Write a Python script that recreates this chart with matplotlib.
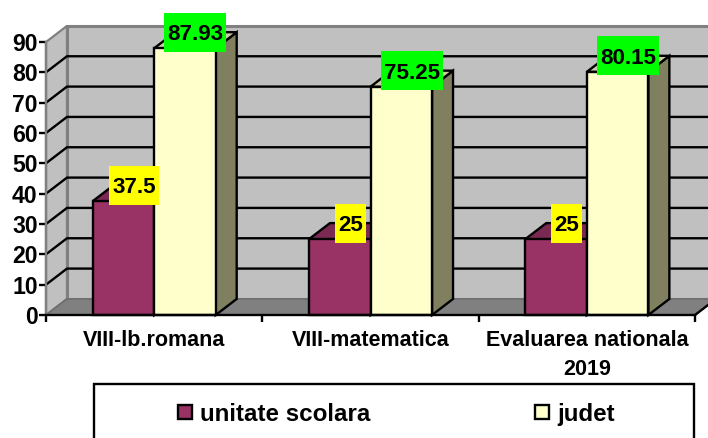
import matplotlib
matplotlib.use("Agg")
import matplotlib.pyplot as plt
from matplotlib.patches import Polygon, Rectangle

categories = ["VIII-lb.romana", "VIII-matematica", "Evaluarea nationala\n2019"]
unitate = [37.5, 25, 25]
judet = [87.93, 75.25, 80.15]
unitate_labels = ["37.5", "25", "25"]
judet_labels = ["87.93", "75.25", "80.15"]
y_ticks = [0, 10, 20, 30, 40, 50, 60, 70, 80, 90]
legend_labels = ["unitate scolara", "judet"]

# ── Style ─────────────────────────────────────────────────────────
W, H = 708, 438
MAROON, MAROON_TOP = "#993366", "#7A2952"
CREAM, CREAM_TOP, CREAM_SIDE = "#FFFFCC", "#CCCCA3", "#808060"
WALL, WALL_EDGE, FLOOR = "#C0C0C0", "#808080", "#808080"
BAR_W = 0.2845
DX, DY = 0.097, 5.3   # 3d depth offset, in data units
LW = 1.7

plt.rcParams["font.family"] = ["Liberation Sans", "DejaVu Sans"]
plt.rcParams["font.weight"] = "bold"

fig = plt.figure(figsize=(W / 100, H / 100), dpi=100, facecolor="white")
ax = fig.add_axes([46 / W, (H - 315) / H, (695 - 46) / W, (315 - 42) / H])
ax.set_xlim(0, 3)
ax.set_ylim(0, 90)
ax.patch.set_visible(False)
for s in ("top", "right"):
    ax.spines[s].set_visible(False)
for s in ("left", "bottom"):
    ax.spines[s].set_linewidth(LW)
    ax.spines[s].set_zorder(6)
ax.spines["left"].set_color("#808080")


def poly(pts, face, edge, z, lw=LW):
    ax.add_patch(Polygon(pts, closed=True, facecolor=face, edgecolor=edge,
                         linewidth=lw, zorder=z, clip_on=False, joinstyle="miter"))


# walls and floor
poly([(DX, DY), (3 + DX, DY), (3 + DX, 90 + DY), (DX, 90 + DY)], WALL, WALL_EDGE, 1, 2.2)
poly([(0, 0), (DX, DY), (DX, 90 + DY), (0, 90)], WALL, WALL_EDGE, 1, 1.6)
poly([(0, 0), (3, 0), (3 + DX, DY), (DX, DY)], FLOOR, "#6E6E6E", 2, 1.2)
ax.plot([3, 3 + DX], [0, DY], color="black", lw=LW, zorder=2.5, clip_on=False)

# gridlines along back wall and left wall
for v in y_ticks[1:-1]:
    ax.plot([0, DX, 3 + DX], [v, v + DY, v + DY], color="black", lw=LW,
            zorder=2, clip_on=False, solid_joinstyle="miter")


def bar3d(left, val, face, top, side, z):
    right = left + BAR_W
    poly([(right, 0), (right + DX, DY), (right + DX, val + DY), (right, val)], side, "black", z)
    poly([(left, val), (left + DX, val + DY), (right + DX, val + DY), (right, val)], top, "black", z)
    ax.bar(left, val, BAR_W, align="edge", color=face, edgecolor="black",
           linewidth=LW, zorder=z + 0.1, clip_on=False)


for i in range(len(categories)):
    c = i + 0.5
    bar3d(c - BAR_W, unitate[i], MAROON, MAROON_TOP, "#66224A", 3)
    bar3d(c, judet[i], CREAM, CREAM_TOP, CREAM_SIDE, 4)

fig.canvas.draw()
renderer = fig.canvas.get_renderer()


def value_box(x, y, text, color):
    t = ax.text(x, y, text, ha="center", va="center_baseline", fontsize=16.1,
                fontweight="bold", color="black", zorder=8, clip_on=False)
    w_px = t.get_window_extent(renderer).width + 6
    h_px = 39
    w = w_px * 3 / (695 - 46)
    h = h_px * 90 / (315 - 42)
    ax.add_patch(Rectangle((x - w / 2, y - h / 2), w, h, facecolor=color,
                           edgecolor="none", zorder=7, clip_on=False))


for i in range(len(categories)):
    c = i + 0.5
    value_box(c - BAR_W / 2 + DX / 2, unitate[i] + DY, unitate_labels[i], "#FFFF00")
    value_box(c + BAR_W / 2 + DX / 2, judet[i] + DY, judet_labels[i], "#00FF00")

# axes ticks
ax.set_yticks(y_ticks)
ax.set_xticks([0, 1, 2, 3])
ax.set_xticklabels([])
ax.set_xticks([0.5, 1.5, 2.5], minor=True)
ax.set_xticklabels(categories, minor=True, fontsize=15.5, fontweight="bold", linespacing=1.5)
ax.tick_params(axis="x", which="minor", length=0, pad=11)
ax.tick_params(axis="x", which="major", length=5, width=LW)
ax.tick_params(axis="y", length=5, width=LW, pad=1, labelsize=16.6)
for lab in ax.get_yticklabels():
    lab.set_fontweight("bold")

# legend, runs off the bottom of the figure
lg = fig.add_axes([0, 0, 1, 1], zorder=10)
lg.set_xlim(0, W)
lg.set_ylim(H, 0)
lg.axis("off")
lg.add_patch(Rectangle((93.5, 383.5), 600, 80, facecolor="white", edgecolor="black", linewidth=LW))
for x0, col, label in zip([178, 535], [MAROON, CREAM], legend_labels):
    lg.add_patch(Rectangle((x0, 404.5), 14, 14, facecolor=col, edgecolor="black", linewidth=LW))
    lg.text(x0 + 22, 412, label, ha="left", va="center_baseline", fontsize=17.4, fontweight="bold")

fig.savefig("out.png", dpi=100)
